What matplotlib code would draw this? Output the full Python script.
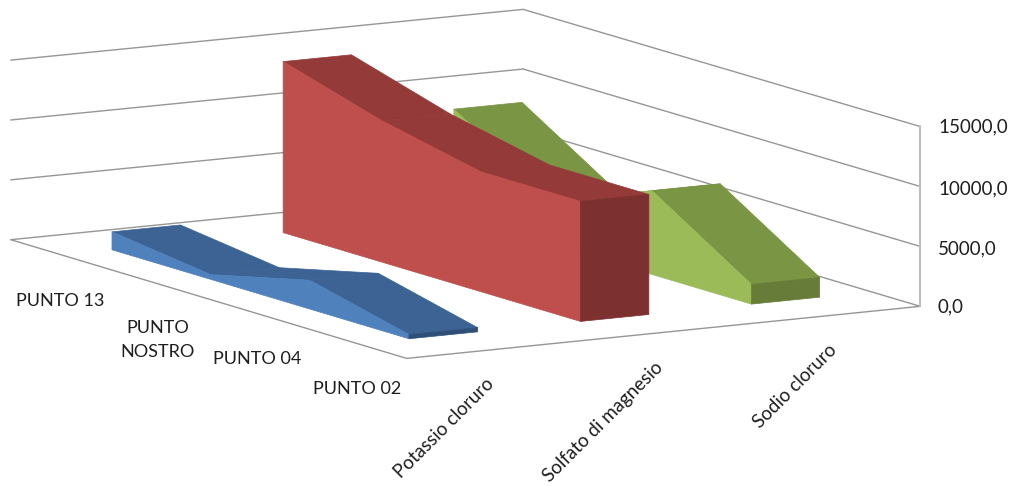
import numpy as np
import matplotlib
matplotlib.use("Agg")
import matplotlib.pyplot as plt
from mpl_toolkits.mplot3d.art3d import Poly3DCollection

# ---- data ----
punti = ["PUNTO 13", "PUNTO\nNOSTRO", "PUNTO 04", "PUNTO 02"]
sali = ["Potassio cloruro", "Solfato di magnesio", "Sodio cloruro"]
potassio = [1500, 400, 2400, 350]
solfato = [14300, 11800, 10000, 10000]
sodio = [8900, 3600, 7000, 1650]
value_ticks = [0, 5000, 10000, 15000]
value_labels = ["0,0", "5000,0", "10000,0", "15000,0"]

# ---- style ----
W, H = 1011, 486
HALF_DEPTH = 0.2
STYLES = [
    dict(front="#4F81BD", top="#3C6394", side="#2F4F78"),
    dict(front="#BE4F4C", top="#943A38", side="#7C302F"),
    dict(front="#9BBB59", top="#7A9544", side="#677C38"),
]
GRID = "#969696"
TEXT = "#1E1E1E"
plt.rcParams["font.family"] = ["Lato", "DejaVu Sans"]

# ---- camera calibration: (category, series, value) <-> reference pixels ----
U0, U1, V0, V1 = -0.5, 3.5, -0.5, 2.5
calib = [
    ((U0, V0, 0), (11, 239)), ((U1, V0, 0), (407, 358)),
    ((U1, V1, 0), (920, 306)), ((U0, V1, 0), (523, 189)),
    ((U0, V0, 15000), (11, 60)), ((U1, V1, 15000), (920, 127)),
    ((U0, V1, 15000), (523, 9)),
    ((0, 1 - HALF_DEPTH, 0), (283, 232)), ((3, 1 - HALF_DEPTH, 0), (580, 321)),
    ((3, 1 + HALF_DEPTH, 0), (648, 313)), ((3, 2 - HALF_DEPTH, 0), (751, 303)),
    ((3, 2 + HALF_DEPTH, 0), (820, 297)), ((0, -HALF_DEPTH, 0), (111, 250)),
    ((3, -HALF_DEPTH, 0), (408, 339)), ((3, HALF_DEPTH, 0), (477, 332)),
]


def fit_camera(points):
    """Perspective camera whose verticals stay vertical on the page."""
    A, b = [], []
    for (u, v, w), (x, y) in points:
        A.append([u, v, 1, 0, 0, 0, 0, -x * u, -x * v]); b.append(x)
        A.append([0, 0, 0, u, v, w / 15000, 1, -y * u, -y * v]); b.append(y)
    p = np.linalg.lstsq(np.array(A, float), np.array(b, float), rcond=None)[0]
    return np.array([
        [p[0], p[1], 0, p[2]],
        [p[3], p[4], p[5] / 15000, p[6]],
        [p[7], p[8], 0, 1.0],
    ])


fig = plt.figure(figsize=(W / 100, H / 100), dpi=100, facecolor="white")
ax = fig.add_axes([0, 0, 1, 1], projection="3d", computed_zorder=False)
ax.set_axis_off()
ax.patch.set_visible(False)
ax.apply_aspect()

P = fit_camera(calib)
# page pixels (y down) -> the axes' 2D coordinates
inv = ax.transData.inverted().get_matrix()
flip = np.array([[1, 0, 0], [0, -1, H], [0, 0, 1.0]])
P2 = inv @ flip @ P
M = np.array([P2[0], P2[1], [0, -1e-3, 0, -1e-2], P2[2]])
ax.get_proj = lambda: M


def line(a, b, color=GRID, lw=1.0, z=1):
    ax.plot([a[0], b[0]], [a[1], b[1]], [a[2], b[2]], color=color, lw=lw,
            zorder=z, clip_on=False, solid_capstyle="round")


# walls and floor
for t in value_ticks:
    line((U0, V0, t), (U0, V1, t))
    line((U0, V1, t), (U1, V1, t))
line((U0, V0, 0), (U1, V0, 0))
line((U1, V0, 0), (U1, V1, 0))
line((U1, V1, 0), (U1, V1, value_ticks[-1]), color="#BDBDBD", lw=1.5)


def face(verts, color, z):
    poly = Poly3DCollection([verts], facecolors=color, edgecolors=color,
                            linewidths=0.5, zorder=z, clip_on=False)
    ax.add_collection3d(poly, autolim=False)


def ribbon(idx, values, style, z):
    vf, vb = idx - HALF_DEPTH, idx + HALF_DEPTH
    n = len(values)
    for i in range(n - 1):
        face([(i, vf, values[i]), (i + 1, vf, values[i + 1]),
              (i + 1, vb, values[i + 1]), (i, vb, values[i])], style["top"], z)
    outline = [(i, vf, values[i]) for i in range(n)]
    outline += [(n - 1, vf, 0), (0, vf, 0)]
    face(outline, style["front"], z + 0.1)
    face([(n - 1, vf, 0), (n - 1, vb, 0), (n - 1, vb, values[-1]),
          (n - 1, vf, values[-1])], style["side"], z + 0.2)


ribbon(2, sodio, STYLES[2], 2)
ribbon(1, solfato, STYLES[1], 3)
ribbon(0, potassio, STYLES[0], 4)

# ---- labels (page pixels) ----
def page_text(x, y, s, size=13.0, **kw):
    fig.text(x / W, 1 - y / H, s, color=TEXT, fontsize=size, **kw)


punti_pos = [(60, 301), (158, 340), (257, 359), (357, 389)]
for (x, y), s in zip(punti_pos, punti):
    page_text(x, y, s, ha="center", va="center", linespacing=1.6)

value_y = [307, 249, 189, 127]
for y, s in zip(value_y, value_labels):
    page_text(938, y, s, size=13.5, ha="left", va="center")

sali_pos = [(444, 428), (603, 422), (795, 386)]
for (x, y), s in zip(sali_pos, sali):
    page_text(x, y, s, size=13.5, ha="center", va="center", rotation=45,
              rotation_mode="anchor")

fig.savefig("out.png", dpi=100, facecolor="white")
